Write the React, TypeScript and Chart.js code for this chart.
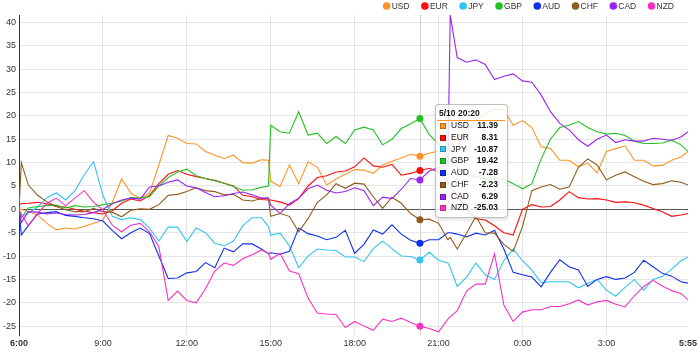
import React, { useEffect, useRef, useState } from "react";
import { Chart, registerables } from "chart.js";

Chart.register(...registerables);

const FONT = "'Liberation Sans', Arial, Helvetica, sans-serif";

const times = [
  "6:00", "6:05", "6:20", "6:40", "7:00", "7:20", "7:40", "8:00", "8:20", "8:40",
  "9:00", "9:20", "9:40", "10:00", "10:20", "10:40", "11:00", "11:20", "11:40", "12:00",
  "12:20", "12:40", "13:00", "13:20", "13:40", "14:00", "14:20", "14:40", "14:55", "15:00",
  "15:20", "15:40", "16:00", "16:20", "16:40", "17:00", "17:20", "17:40", "18:00", "18:20",
  "18:40", "19:00", "19:20", "19:40", "20:00", "20:20", "20:40", "21:00", "21:20", "21:25",
  "21:40", "22:00", "22:20", "22:40", "23:00", "23:20", "23:40", "0:00", "0:20", "0:40",
  "1:00", "1:20", "1:40", "2:00", "2:20", "2:40", "3:00", "3:20", "3:40", "4:00",
  "4:20", "4:40", "5:00", "5:20", "5:40", "5:55",
];

const usd = [
  0, 0, -0.5, -1.2, -3, -4.4, -4, -4.2, -3.6, -3,
  -2.3, 1.5, 6.5, 3.5, 2.3, 3.5, 9.5, 15.8, 15.2, 14.1,
  14, 12.4, 11.6, 10.9, 11.6, 10, 9.9, 10.6, 10.5, 6,
  4.9, 9.5, 5.5, 10.2, 9, 5.2, 6.5, 7.5, 8.5, 8.4,
  7.7, 9.5, 10.3, 11, 11.8, 11.39, 12, 12.5, 13, 13.5,
  15, 17, 19, 20.5, 21.5, 21.3, 18, 19, 17.5, 13.4,
  13, 10.5, 10.5, 9.1, 9.9, 7.8, 12.4, 13, 13.6, 10.5,
  10.5, 9.3, 9.4, 10.5, 11.2, 12.4,
];

const eur = [
  1, 1.2, 1.3, 1.5, 1.2, 0.6, 0.5, 0, -0.4, -0.7,
  -1, -0.3, 1.3, 2.2, 1.8, 3, 5.5, 7.5, 8.3, 7.5,
  7, 6.6, 6.2, 5.6, 5, 3, 2.7, 2.1, 2, 2,
  1.6, 0.9, 2.3, 5, 6.8, 7.2, 8, 8.2, 9.1, 11,
  9.3, 9, 9.6, 7.3, 7.7, 8.31, 8.8, 8, 6, 5,
  3, 0, -2, -2.3, -3.5, -5, -5.5, 0, 1, 0.5,
  0.6, 2, 3.8, 2.5, 2.2, 2.3, 2, 1.5, 1.6, 1.4,
  0.9, 0.2, -0.5, -1.5, -1.2, -0.9,
];

const jpy = [
  -0.5, -1.5, -0.8, 0.5, 2.5, 3.5, 2, 4, 7.4, 10.2,
  3, -1.5, -2.2, -1.8, -2.2, -4, -6.8, -3.8, -3.8, -6.9,
  -4, -5, -7.3, -7.8, -6.8, -3.5, -1.8, -1.8, -3.7, -5.5,
  -5.1, -7.8, -12.5, -10, -8.5, -8.7, -8.8, -10.2, -10.2, -11.2,
  -8.4, -6.8, -8.4, -10, -10.1, -10.87, -9.2, -10.9, -11.5, -12.5,
  -16.5, -14.5, -11.5, -14, -15, -11, -8.5, -11, -13, -15.7,
  -15.5, -15.5, -15.5, -16.8, -15.8, -15, -17.3, -18.6, -16.7, -15,
  -17.3, -15, -14.4, -12.8, -11, -10.2,
];

const gbp = [
  0, -1.8, 0.3, 0.6, 0.8, 0.9, 0.3, 0.8, 0.5, 0.6,
  1, 1.3, 1.8, 2.5, 2.4, 2.7, 5, 6.8, 8, 8.6,
  7.2, 6.6, 6.1, 5.6, 4.9, 4.1, 4.2, 4.7, 5, 18,
  16.6, 16.3, 20.9, 15.9, 16.3, 14.1, 15.6, 14.1, 17, 17.6,
  17, 13.8, 15, 17.3, 18.3, 19.42, 16, 14, 11, 10.5,
  9, 7.5, 7, 6.5, 6.5, 6.5, 5.5, 4.4, 5.5, 10.8,
  15, 17.5, 18, 18.8, 17.5, 16.6, 16.1, 16.3, 15.8, 14.6,
  14.1, 14.1, 14.2, 14.8, 13.8, 12.4,
];

const aud = [
  0, -5.5, -3.5, -1, -0.7, -0.5, -1.3, -1.5, -1.8, -2,
  -2.5, -4.5, -6.3, -5, -4, -5.2, -10, -14.8, -14.7, -13.6,
  -13.3, -11.4, -12.5, -8.3, -9.1, -7.4, -7.4, -8.5, -9.5, -9.3,
  -9.6, -9, -4, -5.2, -5.7, -6.5, -6, -4.5, -9.4, -7.5,
  -4.4, -5.3, -3.3, -5.3, -6.6, -7.28, -6.5, -6.5, -5, -5,
  -5.3, -5.9, -5.1, -5.5, -4.5, -8.5, -13.5, -14, -14.5, -16.6,
  -13.5, -10.8, -12.3, -13, -16.5, -15, -14.4, -15, -14.7, -13.5,
  -10.9, -12.3, -13.7, -14.3, -15.5, -15.8,
];

const chf = [
  0, 10, 5.2, 3, 1.6, 0.6, -0.1, -0.5, -0.5, 0.2,
  -0.5, -0.6, -1.6, -0.2, 0.1, 0, 1, 3, 3.2, 3.8,
  4.6, 4, 3.8, 3.1, 3.2, 2, 1.8, 2.3, 2.4, -1.5,
  -0.9, -1.5, -4.8, -2, 1.5, 3.1, 5.5, 4.5, 5.6, 5.4,
  2.7, 0.2, 2.6, 1.3, -0.9, -2.23, -2.1, -3, -6.5, -6,
  -8.5, -5.1, -1.5, -5, -5.1, -7.5, -9, -3.7, 4, 4.8,
  5.3, 4.3, 4.8, 9, 10.8, 9.5, 6.3, 7.3, 8, 7,
  6, 5.3, 5.5, 6.1, 5.8, 5.2,
];

const cad = [
  0, -2.8, -0.5, -0.6, -1, -0.8, -1.1, -1.2, -1.1, -0.7,
  0, 1.2, 2, 2.4, 2.2, 4.8, 5, 5.8, 6.3, 5,
  4.6, 3.6, 2.7, 2.9, 3.4, 3.7, 3.1, 2.4, 2.4, 0.9,
  -0.9, 1.2, 2.4, 4.4, 5.2, 4.1, 3.5, 3.8, 4.6, 4,
  0.8, 2.6, 2.3, 4.3, 6.6, 6.29, 8.2, 9, 9.5, 41.6,
  32.5, 31.5, 32, 31, 27.8, 28.5, 29, 27.5, 27.2, 24.5,
  20.9, 18.4, 17, 14.9, 13.5, 15, 15.9, 14.3, 14.9, 14.6,
  14.6, 15.2, 15, 14.8, 15.5, 16.6,
];

const nzd = [
  0, -1, -3.5, -0.8, 1.3, 2.4, 0.8, 2.4, 4, 1.5,
  -0.1, -3.4, -4.8, -3.4, -3, -4.8, -8, -19.5, -17.5, -19.5,
  -20, -17, -13.2, -11.5, -12, -10.6, -9.7, -8.7, -9.4, -10.7,
  -9.4, -13.2, -13.8, -19, -22.2, -22.4, -22.5, -25.3, -24, -25,
  -25.9, -23.5, -24, -23.3, -24.2, -25.03, -25.5, -26.2, -23.5, -23,
  -21.7, -17.5, -16, -16, -9.5, -20.5, -24, -22, -21.5, -21.5,
  -20.8, -20.8, -20.2, -19.4, -20.5, -19.8, -19.5, -20.3, -20.9, -18.5,
  -16.5, -15.2, -16.4, -17.4, -18, -19.4,
];

const seriesNames = ["USD", "EUR", "JPY", "GBP", "AUD", "CHF", "CAD", "NZD"];
const seriesValues = [usd, eur, jpy, gbp, aud, chf, cad, nzd];
const seriesColors = ["#ff9326", "#ff0d0d", "#33c4f2", "#22c322", "#1030e8", "#8f5b1c", "#9a24f2", "#f433c2"];

const xTickLabels = ["6:00", "9:00", "12:00", "15:00", "18:00", "21:00", "0:00", "3:00", "5:55"];
const yTickValues = [-25, -20, -15, -10, -5, 0, 5, 10, 15, 20, 25, 30, 35, 40];
const hoverDate = "5/10";
const hoverTime = "20:20";
const yMin = -26.9;
const yMax = 41.6;

const GRID = "#e6e6e6";

function toMinutes(label: string): number {
  const [h, m] = label.split(":").map(Number);
  let t = (h - 6) * 60 + m;
  if (t < 0) t += 1440;
  return t;
}

function labelFor(value: number): string {
  const found = xTickLabels.find((l) => toMinutes(l) === value);
  return found ?? "";
}

const hoverIndex = times.indexOf(hoverTime);

const hoverLinePlugin = {
  id: "hoverLine",
  beforeDatasetsDraw(chart: any) {
    const ctx = chart.ctx;
    const x = chart.scales.x.getPixelForValue(toMinutes(hoverTime));
    const { top, bottom } = chart.chartArea;
    ctx.save();
    ctx.strokeStyle = "#d2d2d2";
    ctx.lineWidth = 1;
    ctx.beginPath();
    ctx.moveTo(Math.round(x) + 0.5, top);
    ctx.lineTo(Math.round(x) + 0.5, bottom);
    ctx.stroke();
    ctx.restore();
  },
};

const legendPlugin = {
  id: "topLegend",
  afterDraw(chart: any) {
    const ctx = chart.ctx;
    ctx.save();
    ctx.font = `8.5px ${FONT}`;
    ctx.textBaseline = "middle";
    const widths = seriesNames.map((n) => ctx.measureText(n).width);
    const gap = 15.3;
    const total = widths.reduce((a, w) => a + 5 + w, 0) + gap * (seriesNames.length - 1);
    let x = chart.width - 26 - total;
    const y = 6;
    seriesNames.forEach((name, i) => {
      ctx.fillStyle = seriesColors[i];
      ctx.beginPath();
      ctx.arc(x, y, 3.8, 0, Math.PI * 2);
      ctx.fill();
      ctx.fillStyle = "#333";
      ctx.textAlign = "left";
      ctx.fillText(name, x + 5, y + 0.5);
      x += 5 + widths[i] + gap;
    });
    ctx.restore();
  },
};

export default function App() {
  const canvasRef = useRef<HTMLCanvasElement | null>(null);
  const [tipLeft, setTipLeft] = useState<number>(436);

  useEffect(() => {
    const canvas = canvasRef.current;
    if (!canvas) return;
    const lastIdx = xTickLabels.length - 1;
    const chart = new Chart(canvas, {
      type: "line",
      data: {
        datasets: seriesNames.map((name, s) => ({
          label: name,
          data: times.map((t, i) => ({ x: toMinutes(t), y: seriesValues[s][i] })),
          borderColor: seriesColors[s],
          backgroundColor: seriesColors[s],
          pointBackgroundColor: seriesColors[s],
          borderWidth: 1.1,
          pointRadius: times.map((t) => (t === hoverTime ? 3.5 : 0)),
          pointBorderWidth: 0,
          tension: 0,
          fill: false,
          order: seriesNames.length - 1 - s,
        })),
      },
      options: {
        responsive: false,
        animation: false,
        devicePixelRatio: 1,
        events: [],
        layout: { padding: { top: 15, right: 10, left: 0, bottom: 0 } },
        plugins: {
          legend: { display: false },
          tooltip: { enabled: false },
        },
        scales: {
          x: {
            type: "linear",
            bounds: "data",
            min: 0,
            max: toMinutes(times[times.length - 1]),
            afterBuildTicks: (scale: any) => {
              scale.ticks = xTickLabels.map((l) => ({ value: toMinutes(l) }));
            },
            afterFit: (scale: any) => {
              scale.height = 19;
            },
            border: { display: false },
            grid: {
              drawTicks: false,
              color: (ctx: any) => (ctx.index === 0 || ctx.index === lastIdx ? "rgba(0,0,0,0)" : GRID),
            },
            ticks: {
              autoSkip: false,
              maxRotation: 0,
              padding: 3,
              color: "#333",
              font: (ctx: any) => ({
                family: FONT,
                size: 9,
                weight: ctx.index === 0 || ctx.index === lastIdx ? "bold" : "normal",
              }),
              callback: (value: any) => labelFor(Number(value)),
            },
          },
          y: {
            type: "linear",
            bounds: "data",
            min: yMin,
            max: yMax,
            afterBuildTicks: (scale: any) => {
              scale.ticks = yTickValues.map((v) => ({ value: v }));
            },
            afterFit: (scale: any) => {
              scale.width = 19;
            },
            border: { display: true, color: "#333", width: 1 },
            grid: {
              drawTicks: false,
              color: (ctx: any) => (ctx.tick && ctx.tick.value === 0 ? "#555" : GRID),
            },
            ticks: {
              autoSkip: false,
              padding: 3,
              color: "#333",
              font: { family: FONT, size: 9 },
              callback: (value: any) => String(value),
            },
          },
        },
      } as any,
      plugins: [hoverLinePlugin, legendPlugin],
    });
    const hx = chart.scales.x.getPixelForValue(toMinutes(hoverTime));
    setTipLeft(Math.round(hx) + 15);
    return () => {
      chart.destroy();
    };
  }, []);

  const rowH = 11.76;

  return (
    <div style={{ position: "absolute", left: 0, top: 0, width: 700, height: 354, background: "#fff" }}>
      <canvas ref={canvasRef} width={700} height={354} style={{ display: "block", width: 700, height: 354 }} />
      <div
        style={{
          position: "absolute",
          left: tipLeft,
          top: 104,
          width: 73,
          height: 114,
          boxSizing: "border-box",
          background: "rgba(255,255,255,0.82)",
          border: "1px solid rgba(0,0,0,0.25)",
          borderRadius: 4,
          boxShadow: "0 2px 4px rgba(0,0,0,0.12)",
          fontFamily: FONT,
          fontSize: 8.5,
          color: "#111",
        }}
      >
        <div style={{ position: "absolute", left: 3, top: 2, height: 12, lineHeight: "12px", fontWeight: "bold", whiteSpace: "nowrap" }}>
          {hoverDate} {hoverTime}
        </div>
        <div style={{ position: "absolute", left: 1, right: 2, top: 15, height: 1, background: seriesColors[0] }} />
        {seriesNames.map((name, s) => (
          <div
            key={name}
            style={{
              position: "absolute",
              left: 0,
              right: 0,
              top: 15.1 + rowH * s,
              height: rowH,
              lineHeight: `${rowH}px`,
              whiteSpace: "nowrap",
            }}
          >
            <div
              style={{
                position: "absolute",
                left: 4,
                top: (rowH - 6) / 2,
                width: 6,
                height: 6,
                boxSizing: "border-box",
                background: seriesColors[s],
                border: "1px solid rgba(0,0,0,0.25)",
              }}
            />
            <span style={{ position: "absolute", left: 15 }}>{name}</span>
            <span style={{ position: "absolute", right: 9, fontWeight: "bold" }}>
              {seriesValues[s][hoverIndex].toFixed(2)}
            </span>
          </div>
        ))}
      </div>
    </div>
  );
}
